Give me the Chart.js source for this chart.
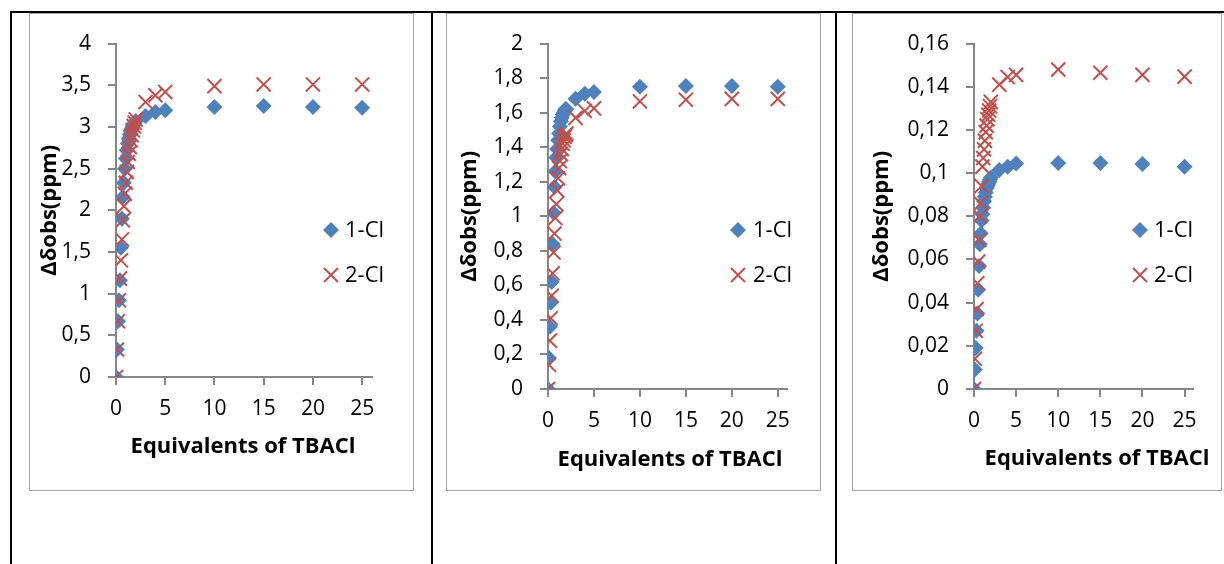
<!DOCTYPE html>
<html>
<head>
<meta charset="utf-8">
<script src="https://cdn.jsdelivr.net/npm/chart.js@4.4.1/dist/chart.umd.min.js"></script>
<style>
  body { margin: 0; background: #fff; width: 1224px; height: 564px; position: relative; overflow: hidden; }
  .line { position: absolute; background: #000; }
  .frame { position: absolute; border: 1px solid #a6a6a6; box-sizing: border-box; background: #fff; }
  .frame canvas { display: block; }
</style>
</head>
<body>
<!-- table lines -->
<div class="line" style="left:10px;top:11px;width:1214px;height:2px"></div>
<div class="line" style="left:10px;top:11px;width:2px;height:553px"></div>
<div class="line" style="left:431px;top:11px;width:2px;height:553px"></div>
<div class="line" style="left:835px;top:11px;width:2px;height:553px"></div>

<div class="frame" style="left:29px;top:13px;width:385px;height:478px"><canvas id="c1" width="383" height="476"></canvas></div>
<div class="frame" style="left:446px;top:13px;width:375px;height:478px"><canvas id="c2" width="373" height="476"></canvas></div>
<div class="frame" style="left:852px;top:13px;width:370px;height:478px"><canvas id="c3" width="368" height="476"></canvas></div>

<script>
// equivalents of TBACl added (x values, shared by all series)
const equiv = [0, 0.1, 0.2, 0.3, 0.4, 0.5, 0.6, 0.7, 0.8, 0.9, 1.0, 1.1, 1.2, 1.3, 1.4, 1.5, 1.6, 1.7, 1.8, 1.9, 2.0, 3, 4, 5, 10, 15, 20, 25];

// panel 1
const p1_cl1 = [0, 0.33, 0.67, 0.92, 1.16, 1.55, 1.9, 2.16, 2.33, 2.5, 2.62, 2.72, 2.8, 2.86, 2.91, 2.95, 2.98, 3.01, 3.03, 3.05, 3.07, 3.13, 3.18, 3.2, 3.24, 3.25, 3.24, 3.23];
const p1_cl2 = [0, 0.33, 0.67, 0.92, 1.18, 1.4, 1.65, 1.88, 2.05, 2.2, 2.33, 2.46, 2.58, 2.68, 2.76, 2.84, 2.9, 2.96, 3.01, 3.05, 3.09, 3.3, 3.38, 3.42, 3.49, 3.51, 3.51, 3.51];

// panel 2
const p2_cl1 = [0, 0.18, 0.36, 0.5, 0.62, 0.84, 1.02, 1.17, 1.26, 1.34, 1.39, 1.44, 1.48, 1.52, 1.55, 1.57, 1.59, 1.6, 1.61, 1.62, 1.62, 1.68, 1.71, 1.72, 1.75, 1.755, 1.755, 1.75];
const p2_cl2 = [0, 0.14, 0.28, 0.41, 0.54, 0.67, 0.79, 0.9, 0.99, 1.07, 1.15, 1.22, 1.28, 1.32, 1.36, 1.39, 1.42, 1.44, 1.46, 1.47, 1.48, 1.57, 1.61, 1.625, 1.665, 1.675, 1.68, 1.68];

// panel 3
const p3_cl1 = [0, 0.009, 0.019, 0.027, 0.035, 0.046, 0.057, 0.067, 0.072, 0.078, 0.081, 0.084, 0.087, 0.089, 0.091, 0.093, 0.094, 0.095, 0.096, 0.097, 0.098, 0.1015, 0.103, 0.1045, 0.1047, 0.1047, 0.1042, 0.103];
const p3_cl2 = [0, 0.014, 0.027, 0.037, 0.049, 0.059, 0.069, 0.08, 0.086, 0.094, 0.103, 0.107, 0.111, 0.115, 0.119, 0.122, 0.125, 0.127, 0.129, 0.131, 0.133, 0.141, 0.1445, 0.1455, 0.148, 0.1465, 0.1455, 0.1447];

const seriesNames = ['1-Cl', '2-Cl'];
const xTitle = 'Equivalents of TBACl';
const yTitle = 'Δδobs(ppm)';

const BLUE = '#4F81BD';
const RED = '#C0504D';
const AXIS = '#868686';
const FONT = '"Open Sans", Lato, sans-serif';

function pts(ys) {
  return ys.map(function(y, i) { return { x: equiv[i], y: y }; });
}

function diamond(ctx, x, y, r) {
  ctx.beginPath();
  ctx.moveTo(x, y - r);
  ctx.lineTo(x + r, y);
  ctx.lineTo(x, y + r);
  ctx.lineTo(x - r, y);
  ctx.closePath();
  ctx.fillStyle = BLUE;
  ctx.fill();
}

function cross(ctx, x, y, h) {
  ctx.beginPath();
  ctx.moveTo(x - h, y - h); ctx.lineTo(x + h, y + h);
  ctx.moveTo(x + h, y - h); ctx.lineTo(x - h, y + h);
  ctx.strokeStyle = RED;
  ctx.lineWidth = 2;
  ctx.stroke();
}

// axis titles + legend, drawn the way Excel places them
const decor = {
  id: 'decor',
  afterDraw: function(chart, args, o) {
    const ctx = chart.ctx;
    const ca = chart.chartArea;
    ctx.save();
    ctx.fillStyle = '#000';
    ctx.font = 'bold 22px ' + FONT;
    ctx.textAlign = 'center';
    ctx.textBaseline = 'middle';
    ctx.fillText(xTitle, o.xtX, o.xtY);
    ctx.save();
    ctx.translate(o.ytX, (ca.top + ca.bottom) / 2);
    ctx.rotate(-Math.PI / 2);
    ctx.fillText(yTitle, 0, 0);
    ctx.restore();

    // legend
    diamond(ctx, o.lgX, o.lgY1, 8);
    cross(ctx, o.lgX, o.lgY2, 7);
    ctx.fillStyle = '#000';
    ctx.font = '22px ' + FONT;
    ctx.textAlign = 'left';
    ctx.fillText(seriesNames[0], o.lgT, o.lgY1 + 1);
    ctx.fillText(seriesNames[1], o.lgT, o.lgY2 + 1);
    ctx.restore();
  }
};

function fmt(v) {
  return String(parseFloat(v.toFixed(4))).replace('.', ',');
}

function makeChart(id, cl1, cl2, yMax, yStep, lay) {
  return new Chart(document.getElementById(id), {
    type: 'scatter',
    data: {
      datasets: [{
        label: seriesNames[0],
        data: pts(cl1),
        order: 1,
        pointStyle: 'rectRot',
        pointRadius: 8,
        pointHoverRadius: 8,
        backgroundColor: BLUE,
        borderColor: BLUE,
        pointBorderWidth: 0
      }, {
        label: seriesNames[1],
        data: pts(cl2),
        order: 0,
        pointStyle: 'crossRot',
        pointRadius: 10,
        pointHoverRadius: 10,
        backgroundColor: RED,
        borderColor: RED,
        pointBorderWidth: 2
      }]
    },
    options: {
      responsive: false,
      animation: false,
      events: [],
      layout: { padding: { top: lay.top, right: lay.right, left: 0, bottom: 0 } },
      plugins: {
        legend: { display: false },
        tooltip: { enabled: false },
        decor: lay
      },
      scales: {
        x: {
          type: 'linear',
          min: 0, max: 26,
          afterFit: function(s) { s.height = lay.xh; },
          border: { color: AXIS, width: 2 },
          grid: { drawOnChartArea: false, color: AXIS, lineWidth: 2, tickLength: 8 },
          ticks: {
            stepSize: 5, includeBounds: false, padding: 11,
            color: '#000', font: { family: FONT, size: 21 },
            maxRotation: 0
          }
        },
        y: {
          min: 0, max: yMax,
          afterFit: function(s) { s.width = lay.yw; },
          border: { color: AXIS, width: 2 },
          grid: { drawOnChartArea: false, color: AXIS, lineWidth: 2, tickLength: 8 },
          ticks: {
            stepSize: yStep, padding: 17,
            color: '#000', font: { family: FONT, size: 21 },
            callback: function(v) { return fmt(v); }
          }
        }
      }
    },
    plugins: [decor]
  });
}

makeChart('c1', p1_cl1, p1_cl2, 4, 0.5,
  { top: 26, right: 41, yw: 86, xh: 113, xtX: 213, xtY: 433, ytX: 20, lgX: 301, lgY1: 216, lgY2: 261, lgT: 315 });
makeChart('c2', p2_cl1, p2_cl2, 2, 0.2,
  { top: 24, right: 33, yw: 101, xh: 101, xtX: 223, xtY: 446, ytX: 23, lgX: 291, lgY1: 216, lgY2: 261, lgT: 306 });
makeChart('c3', p3_cl1, p3_cl2, 0.16, 0.02,
  { top: 24, right: 28, yw: 121, xh: 101, xtX: 244, xtY: 445, ytX: 29, lgX: 287, lgY1: 216, lgY2: 261, lgT: 301 });
</script>
</body>
</html>
